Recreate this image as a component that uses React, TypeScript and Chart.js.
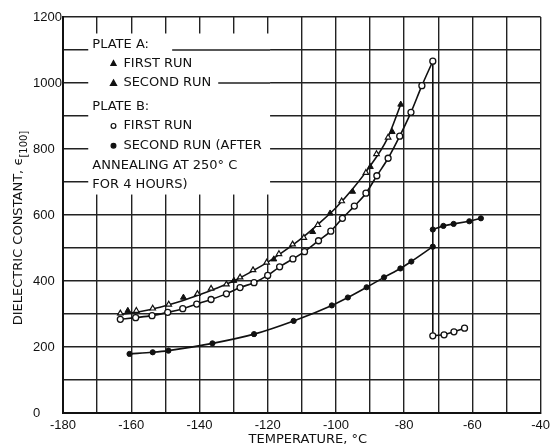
import React, { useEffect, useRef } from "react";
import { Chart, registerables } from "chart.js";

Chart.register(...registerables);

// ---- Data ----
const plateAFirstT = [-163.2, -158.5, -153.7, -149.0, -140.6, -136.6, -132.1, -128.1, -124.3, -120.3, -116.7, -112.7, -109.4, -105.3, -98.3, -91.2, -88.1, -84.7];
const plateAFirstV = [302, 310, 317, 329, 361, 377, 390, 411, 433, 456, 482, 511, 531, 570, 642, 728, 785, 835];

const plateASecondT = [-161.0, -144.7, -129.9, -118.2, -106.8, -101.7, -95.1, -89.9, -83.5, -81.0];
const plateASecondV = [310, 350, 401, 466, 549, 605, 671, 746, 852, 935];

// smooth curve drawn through plate A points
const plateAFitT = [-164, -160, -155, -150, -145, -140, -135, -130, -125, -120, -115, -110, -105, -100, -95, -90, -85, -81];
const plateAFitV = [298, 303, 312, 325, 340, 358, 378, 400, 427, 457, 492, 530, 574, 622, 680, 748, 830, 935];

const plateBFirstT = [-163.2, -158.7, -153.9, -149.3, -144.9, -140.8, -136.6, -132.1, -128.1, -124.0, -120.0, -116.5, -112.6, -109.2, -105.1, -101.5, -98.1, -94.6, -91.2, -88.0, -84.7, -81.3, -78.0, -74.8, -71.6];
const plateBFirstV = [284, 289, 295, 305, 316, 330, 344, 361, 380, 395, 417, 443, 467, 489, 522, 551, 590, 627, 666, 719, 772, 839, 911, 992, 1066];
const plateBFirstTailT = [-71.6, -68.3, -65.4, -62.3];
const plateBFirstTailV = [234, 237, 246, 257];

const plateBSecondT = [-160.5, -153.7, -149.1, -136.2, -124.0, -112.4, -101.2, -96.5, -91.0, -85.9, -81.1, -77.9, -71.6];
const plateBSecondV = [179, 184, 189, 211, 239, 279, 326, 350, 381, 411, 438, 459, 504];
const plateBSecondHighT = [-71.6, -68.5, -65.5, -60.9, -57.5];
const plateBSecondHighV = [556, 567, 573, 581, 590];

const xTicks = { min: -180, max: -40, step: 10, labelEvery: 20 };
const yTicks = { min: 0, max: 1200, step: 100, labelEvery: 200 };

const xTitle = "TEMPERATURE, °C";
const yTitleMain = "DIELECTRIC CONSTANT, ϵ";
const yTitleSub = "[100]";

const legendLines = [
  { text: "PLATE A:", marker: "", indent: 0 },
  { text: "FIRST RUN", marker: "triOpen", indent: 1 },
  { text: "SECOND RUN", marker: "triFilled", indent: 1 },
  { text: "PLATE B:", marker: "", indent: 0 },
  { text: "FIRST RUN", marker: "circOpen", indent: 1 },
  { text: "SECOND RUN (AFTER", marker: "circFilled", indent: 1 },
  { text: "ANNEALING AT 250° C", marker: "", indent: 0 },
  { text: "FOR 4 HOURS)", marker: "", indent: 0 },
];

const pts = (xs: number[], ys: number[]) => xs.map((x, i) => ({ x, y: ys[i] }));

const INK = "#111";
const FONT = "'DejaVu Sans', sans-serif";

const decorPlugin = {
  id: "decor",
  beforeDatasetsDraw(chart: any) {
    const ctx = chart.ctx;
    const xs = chart.scales.x;
    const ys = chart.scales.y;
    ctx.save();
    // white area behind the legend
    const mx0 = xs.getPixelForValue(-172.6);
    const mx1 = xs.getPixelForValue(-119.3);
    const my0 = ys.getPixelForValue(1150);
    const my1 = ys.getPixelForValue(662);
    ctx.fillStyle = "#fff";
    ctx.fillRect(mx0, my0, mx1 - mx0, my1 - my0);
    // partial grid segments that show through the legend area
    ctx.strokeStyle = "#222";
    ctx.lineWidth = 1.4;
    ctx.beginPath();
    ctx.moveTo(xs.getPixelForValue(-148), ys.getPixelForValue(1100));
    ctx.lineTo(mx1, ys.getPixelForValue(1100));
    ctx.moveTo(xs.getPixelForValue(-134.5), ys.getPixelForValue(1000));
    ctx.lineTo(mx1, ys.getPixelForValue(1000));
    ctx.stroke();

    // legend text
    ctx.fillStyle = INK;
    ctx.font = `13px ${FONT}`;
    ctx.textBaseline = "middle";
    const lineY = [1117, 1060, 1000, 927, 870, 810, 750, 692];
    const xText0 = xs.getPixelForValue(-171.4);
    const xText1 = xs.getPixelForValue(-162.3);
    const xMark = xs.getPixelForValue(-165.2);
    legendLines.forEach((ln, i) => {
      const y = ys.getPixelForValue(lineY[i]);
      const tx = ln.indent ? xText1 : xText0;
      ctx.fillStyle = INK;
      ctx.fillText(ln.text, tx, y);
      if (ln.marker) {
        ctx.lineWidth = 1.2;
        ctx.strokeStyle = INK;
        if (ln.marker.startsWith("tri")) {
          const r = ln.marker === "triOpen" ? 2.6 : 3.1;
          ctx.beginPath();
          ctx.moveTo(xMark, y - r);
          ctx.lineTo(xMark + r, y + r * 0.8);
          ctx.lineTo(xMark - r, y + r * 0.8);
          ctx.closePath();
          ctx.fillStyle = INK;
          ctx.fill();
          ctx.stroke();
        } else {
          ctx.beginPath();
          ctx.arc(xMark, y, 2.4, 0, Math.PI * 2);
          ctx.fillStyle = ln.marker === "circOpen" ? "#fff" : INK;
          ctx.fill();
          ctx.stroke();
        }
      }
    });
    ctx.restore();
  },
  afterDraw(chart: any) {
    const ctx = chart.ctx;
    const area = chart.chartArea;
    ctx.save();
    ctx.fillStyle = INK;
    // x title
    ctx.font = `13px ${FONT}`;
    ctx.textAlign = "center";
    ctx.textBaseline = "middle";
    ctx.fillText(xTitle, (area.left + area.right) / 2 + 6, 440);
    // y title (rotated, with subscript)
    ctx.translate(19, 228);
    ctx.rotate(-Math.PI / 2);
    ctx.font = `13px ${FONT}`;
    const wMain = ctx.measureText(yTitleMain).width;
    ctx.font = `10px ${FONT}`;
    const wSub = ctx.measureText(yTitleSub).width;
    const start = -(wMain + wSub) / 2;
    ctx.textAlign = "left";
    ctx.font = `13px ${FONT}`;
    ctx.fillText(yTitleMain, start, 0);
    ctx.font = `10px ${FONT}`;
    ctx.fillText(yTitleSub, start + wMain, 5);
    ctx.restore();
  },
};

export default function App() {
  const ref = useRef<HTMLCanvasElement>(null);
  useEffect(() => {
    if (!ref.current) return;
    const lineBase = {
      showLine: true,
      pointRadius: 0,
      pointHoverRadius: 0,
      borderColor: INK,
      borderWidth: 1.6,
      fill: false,
      order: 2,
    };
    const chart = new Chart(ref.current, {
      type: "scatter",
      data: {
        datasets: [
          { ...lineBase, label: "A fit", data: pts(plateAFitT, plateAFitV), cubicInterpolationMode: "monotone" } as any,
          { ...lineBase, label: "B1 line", data: pts(plateBFirstT, plateBFirstV), cubicInterpolationMode: "monotone" } as any,
          {
            ...lineBase,
            label: "B1 drop",
            data: [
              { x: plateBFirstT[plateBFirstT.length - 1], y: plateBFirstV[plateBFirstV.length - 1] },
              { x: plateBFirstTailT[0], y: plateBFirstTailV[0] },
            ],
            tension: 0,
          } as any,
          { ...lineBase, label: "B1 tail", data: pts(plateBFirstTailT, plateBFirstTailV), tension: 0 } as any,
          { ...lineBase, label: "B2 line", data: pts(plateBSecondT, plateBSecondV), cubicInterpolationMode: "monotone" } as any,
          { ...lineBase, label: "B2 high", data: pts(plateBSecondHighT, plateBSecondHighV), tension: 0 } as any,
          {
            label: "Plate A first run",
            data: pts(plateAFirstT, plateAFirstV),
            pointStyle: "triangle",
            pointRadius: 3.2,
            backgroundColor: "#fff",
            borderColor: INK,
            borderWidth: 1.2,
            order: 0,
          },
          {
            label: "Plate A second run",
            data: pts(plateASecondT, plateASecondV),
            pointStyle: "triangle",
            pointRadius: 3.4,
            backgroundColor: INK,
            borderColor: INK,
            borderWidth: 1,
            order: 0,
          },
          {
            label: "Plate B first run",
            data: pts([...plateBFirstT, ...plateBFirstTailT], [...plateBFirstV, ...plateBFirstTailV]),
            pointStyle: "circle",
            pointRadius: 3,
            backgroundColor: "#fff",
            borderColor: INK,
            borderWidth: 1.3,
            order: 0,
          },
          {
            label: "Plate B second run",
            data: pts([...plateBSecondT, ...plateBSecondHighT], [...plateBSecondV, ...plateBSecondHighV]),
            pointStyle: "circle",
            pointRadius: 2.6,
            backgroundColor: INK,
            borderColor: INK,
            borderWidth: 1,
            order: 0,
          },
        ],
      },
      options: {
        animation: false,
        responsive: false,
        events: [],
        layout: { padding: { left: 33, top: 17, right: 12, bottom: 0 } },
        plugins: { legend: { display: false }, tooltip: { enabled: false } },
        scales: {
          x: {
            type: "linear",
            min: xTicks.min,
            max: xTicks.max,
            afterFit: (s: any) => {
              s.height = 34;
            },
            border: { color: INK, width: 2 },
            grid: { color: "#222", lineWidth: 1.4, drawTicks: false },
            ticks: {
              stepSize: xTicks.step,
              autoSkip: false,
              maxRotation: 0,
              padding: 5,
              color: INK,
              font: { family: "'Liberation Sans', sans-serif", size: 13 },
              callback: (v: any) => (Number(v) % xTicks.labelEvery === 0 ? String(v) : ""),
            },
          },
          y: {
            type: "linear",
            min: yTicks.min,
            max: yTicks.max,
            afterFit: (s: any) => {
              s.width = 30;
            },
            border: { color: INK, width: 2 },
            grid: { color: "#222", lineWidth: 1.4, drawTicks: false },
            ticks: {
              stepSize: yTicks.step,
              autoSkip: false,
              crossAlign: "far",
              color: INK,
              font: { family: "'Liberation Sans', sans-serif", size: 13 },
              callback: (v: any) => (Number(v) % yTicks.labelEvery === 0 ? String(v) : ""),
            },
          },
        },
      } as any,
      plugins: [decorPlugin],
    });
    return () => chart.destroy();
  }, []);
  return (
    <div style={{ position: "absolute", left: 0, top: 0, width: 555, height: 447, background: "#fff" }}>
      <canvas ref={ref} width={555} height={447} style={{ display: "block" }} />
    </div>
  );
}
